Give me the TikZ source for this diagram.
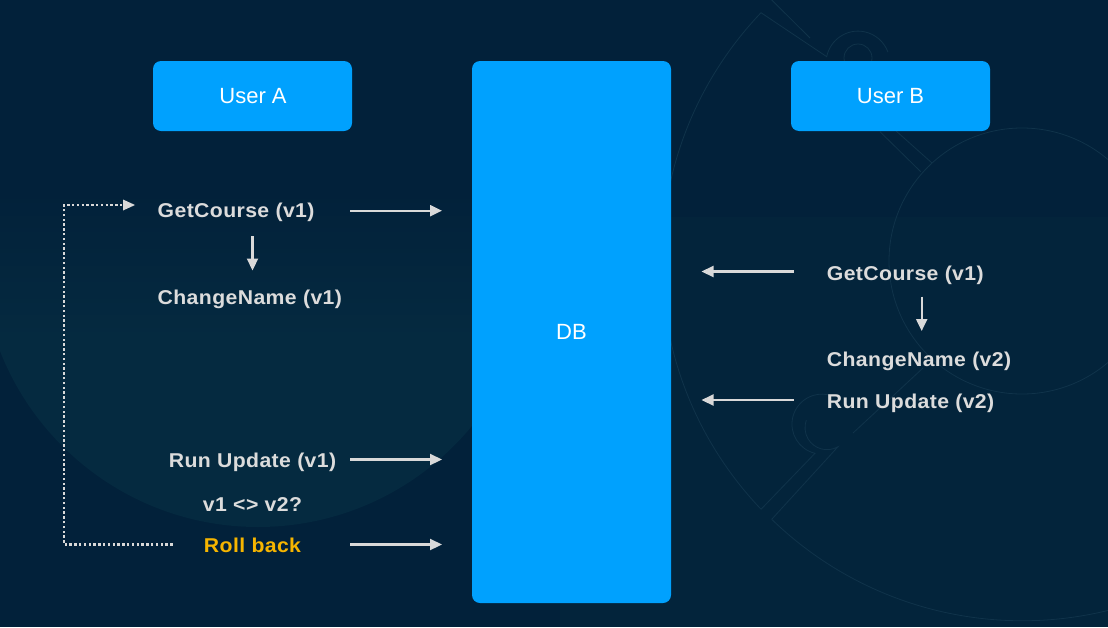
\documentclass[tikz,border=0pt]{standalone}
\usepackage{fontspec}
\setmainfont{Liberation Sans}
\newfontfamily\lblfont[LetterSpace=2, FakeStretch=1.06, UprightFont=* Bold]{Liberation Sans}
\newfontfamily\boxfont{Liberation Sans}
\usetikzlibrary{arrows.meta}
\definecolor{bgbase}{HTML}{02213A}
\definecolor{bgband}{HTML}{03243B}
\definecolor{bgdisc}{HTML}{052A40}
\definecolor{deco}{HTML}{10334A}
\definecolor{boxblue}{HTML}{00A1FE}
\definecolor{txtgray}{HTML}{DCDCDC}
\definecolor{arrgray}{HTML}{D9D9D9}
\definecolor{amber}{HTML}{F6B500}
\tikzset{
  bluebox/.style={fill=boxblue, rounded corners=8pt, draw=none},
  boxtext/.style={text=white, font=\boxfont\fontsize{22}{26}\selectfont, inner sep=0pt},
  lbl/.style={text=txtgray, font=\lblfont\fontsize{20}{24}\selectfont, inner sep=0pt, anchor=base west},
  lblc/.style={text=txtgray, font=\lblfont\fontsize{20}{24}\selectfont, inner sep=0pt, anchor=base},
  arr/.style={draw=arrgray, line width=2.2pt, -{Triangle[length=12pt,width=11pt]}},
  dots/.style={draw=arrgray, line width=2.4pt, dash pattern=on 2.4pt off 2.4pt},
  decoline/.style={draw=deco, line width=0.8pt}
}
\begin{document}
\begin{tikzpicture}[x=1pt,y=-1pt]
\useasboundingbox (0,0) rectangle (1108,627);
% background
\fill[bgbase] (0,0) rectangle (1108,627);
\fill[bgband] (560,217) rectangle (1108,627);
\begin{scope}
  \clip (258,250) circle[radius=277];
  \shade[top color=bgbase, bottom color=bgdisc] (0,190) rectangle (560,340);
  \fill[bgdisc] (0,339) rectangle (560,530);
\end{scope}
% faint decoration on the right
\coordinate (dc) at (1022,261);
\draw[decoline] (dc) circle[radius=133];
\draw[decoline] (761,12.7) arc[start angle=223.6, end angle=136.4, radius=360];
\draw[decoline] (771.7,519.3) arc[start angle=134.1, end angle=55, radius=360];
\draw[decoline] (761,12.7) -- (826.7,56.7) arc[start angle=191.4, end angle=340, radius=31.9];
\draw[decoline] (858,58) circle[radius=14];
\draw[decoline] (880,131.7) -- (920.7,171.7);
\draw[decoline] (771.7,0) -- (810,38);
\draw[decoline] (895,130) -- (932,163);
\draw[decoline] (761,509.3) -- (815,453.3) arc[start angle=103.4, end angle=290, radius=30];
\draw[decoline] (771.7,519.3) -- (838,446.7) arc[start angle=60, end angle=200, radius=22];
\draw[decoline] (853,433) -- (923,368);

% boxes
\fill[bluebox] (153,61) rectangle (352,131);
\fill[bluebox] (472,61) rectangle (671,603);
\fill[bluebox] (791,61) rectangle (990,131);
\node[boxtext] (userA) at (253,96) {User A};
\node[boxtext] (db) at (571.5,332) {DB};
\node[boxtext] (userB) at (890.5,96) {User B};

% left column
\node[lbl] (gcA) at (157.5,217.7) {GetCourse (v1)};
\node[lbl] (cnA) at (157.5,304) {ChangeName (v1)};
\node[lblc] (ruA) at (252.5,467.7) {Run Update (v1)};
\node[lblc] (cmp) at (252.5,511.7) {v1 <> v2?};
\node[lblc, text=amber] (rb) at (252.5,552.5) {Roll back};

% right column
\node[lbl] (gcB) at (826.7,280) {GetCourse (v1)};
\node[lbl] (cnB) at (826.7,366) {ChangeName (v2)};
\node[lbl] (ruB) at (826.7,408.3) {Run Update (v2)};

% connector end points
\coordinate (gcA-s) at (350,210.7);
\coordinate (gcA-e) at (442,210.7);
\coordinate (ruA-s) at (350,459.5);
\coordinate (ruA-e) at (442,459.5);
\coordinate (rb-s) at (350,544.5);
\coordinate (rb-e) at (442,544.5);
\coordinate (dA-s) at (252.5,236);
\coordinate (dA-e) at (252.5,270.5);
\coordinate (gcB-s) at (793.5,271.5);
\coordinate (gcB-e) at (701.5,271.5);
\coordinate (ruB-s) at (793.5,400);
\coordinate (ruB-e) at (701.5,400);
\coordinate (dB-s) at (921.7,296.5);
\coordinate (dB-e) at (921.7,331);
\coordinate (loop-a) at (172.5,544.5);
\coordinate (loop-b) at (64,544.5);
\coordinate (loop-c) at (64,205);
\coordinate (loop-d) at (135,205);

% arrows
\draw[arr] (gcA-s) -- (gcA-e);
\draw[arr] (ruA-s) -- (ruA-e);
\draw[arr] (rb-s) -- (rb-e);
\draw[arr] (dA-s) -- (dA-e);
\draw[arr] (gcB-s) -- (gcB-e);
\draw[arr] (ruB-s) -- (ruB-e);
\draw[arr] (dB-s) -- (dB-e);
\draw[dots] (loop-a) -- (loop-b) -- (loop-c) -- ([xshift=-11pt]loop-d);
\fill[arrgray] (loop-d) -- ++(-12,-5.5) -- ++(0,11) -- cycle;
\end{tikzpicture}
\end{document}
